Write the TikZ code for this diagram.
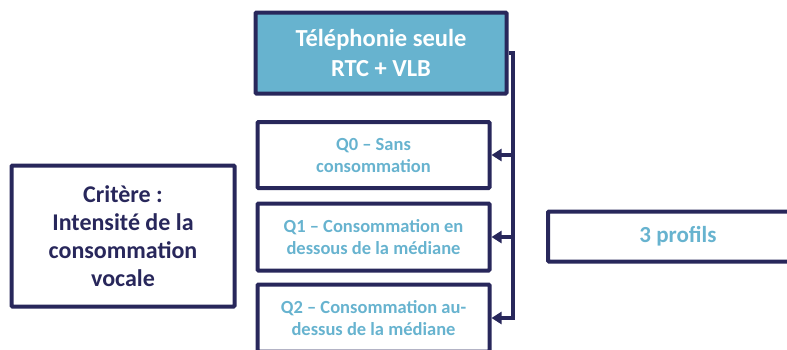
\documentclass[tikz,border=0pt]{standalone}
\usepackage{fontspec}
\setmainfont{Carlito}
\usetikzlibrary{arrows.meta}
\definecolor{navy}{HTML}{28275B}
\definecolor{sky}{HTML}{67B3CF}
\begin{document}
\begin{tikzpicture}[x=1pt,y=-1pt,
    box/.style={draw=navy,line width=4pt,rounded corners=1pt,align=center,font=\bfseries},
    qbox/.style={box,minimum width=232pt,minimum height=66pt,text=sky,font=\bfseries\fontsize{18.5}{22}\selectfont},
    link/.style={draw=navy,line width=3.2pt,-{Triangle[length=10pt,width=12pt]}}]
  \useasboundingbox (0,0) rectangle (787,349);
  \draw
    (381,53) node[box,fill=sky,text=white,minimum width=251pt,minimum height=81pt,font=\bfseries\fontsize{24.5}{30}\selectfont] (tel){Téléphonie seule\\RTC + VLB}
    (373.5,155) node[qbox] (q0){Q0 – Sans\\consommation}
    (373.5,237) node[qbox,minimum height=67pt] (q1){Q1 – Consommation en\\dessous de la médiane}
    (373.5,318) node[qbox,minimum height=67pt] (q2){Q2 – Consommation au-\\dessus de la médiane}
    (123,236) node[box,text=navy,minimum width=223pt,minimum height=141pt,font=\bfseries\fontsize{24}{28}\selectfont] (crit){Critère :\\Intensité de la\\consommation\\vocale}
    (678,236.5) node[box,text=sky,minimum width=260pt,minimum height=50pt,font=\bfseries\fontsize{23}{28}\selectfont] (prof){3 profils};
  \coordinate (elbow) at (513,53);
  \begin{scope}[line join=miter]
    \draw[link] (tel.east) -- (elbow) |- (q2.east);
    \draw[link] (elbow) |- (q0.east);
    \draw[link] (elbow) |- (q1.east);
  \end{scope}
\end{tikzpicture}
\end{document}
